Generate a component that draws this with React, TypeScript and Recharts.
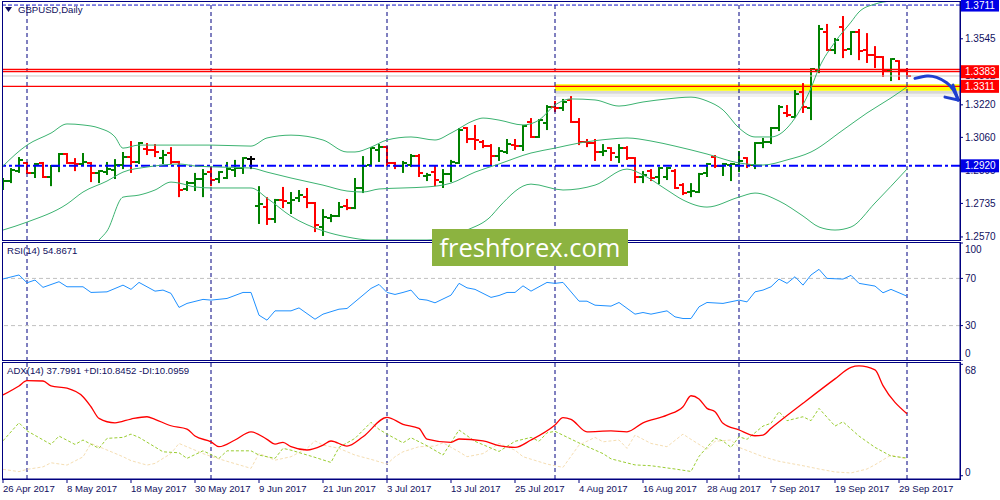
import type React from 'react'
import { Bar, ComposedChart, Line, ReferenceArea, ReferenceLine, XAxis, YAxis } from 'recharts'

// Daily OHLC for GBPUSD, one entry per trading day from 26 Apr 2017 to 2 Oct 2017
const opens = [
  1.2811, 1.2845, 1.2894, 1.2934, 1.2885, 1.2934, 1.2865, 1.2919, 1.2978, 1.2934,
  1.2929, 1.2934, 1.2885, 1.2889, 1.2899, 1.2924, 1.2963, 1.2939, 1.3003, 1.2998,
  1.2958, 1.2983, 1.2939, 1.2806, 1.2835, 1.2855, 1.2889, 1.2855, 1.286, 1.2899,
  1.2909, 1.2953, 1.2722, 1.2717, 1.2658, 1.2752, 1.2737, 1.2761, 1.2766, 1.2737,
  1.2619, 1.2663, 1.2673, 1.2722, 1.2712, 1.2811, 1.2924, 1.2998, 1.3012, 1.2934,
  1.2919, 1.2924, 1.2968, 1.287, 1.2889, 1.284, 1.288, 1.2934, 1.3106, 1.3052,
  1.3037, 1.3017, 1.2968, 1.2988, 1.3022, 1.3017, 1.3135, 1.3062, 1.3131, 1.3209,
  1.3204, 1.3244, 1.3135, 1.3037, 1.3032, 1.2988, 1.3007, 1.2963, 1.3007, 1.2958,
  1.2865, 1.2894, 1.2865, 1.2865, 1.2894, 1.2825, 1.2791, 1.2791, 1.2885, 1.2963,
  1.2919, 1.2924, 1.2924, 1.2958, 1.2924, 1.3032, 1.3037, 1.3106, 1.318, 1.316,
  1.3283, 1.3204, 1.3391, 1.3578, 1.349, 1.3603, 1.3495, 1.3578, 1.349, 1.3465,
  1.3455, 1.3386, 1.3435, 1.3386,
]
const highs = [
  1.286, 1.2909, 1.2963, 1.2939, 1.2934, 1.2939, 1.2924, 1.2983, 1.2983, 1.2958,
  1.2983, 1.2939, 1.2899, 1.2939, 1.2953, 1.2988, 1.3042, 1.3037, 1.3032, 1.3027,
  1.2998, 1.3012, 1.2944, 1.2845, 1.2885, 1.2904, 1.2914, 1.2894, 1.2939, 1.2949,
  1.2963, 1.2968, 1.282, 1.2766, 1.2757, 1.2816, 1.2791, 1.2801, 1.2811, 1.2742,
  1.2707, 1.2683, 1.2742, 1.2757, 1.286, 1.2968, 1.3012, 1.3027, 1.3017, 1.2939,
  1.2944, 1.2978, 1.2978, 1.2885, 1.2919, 1.2904, 1.2949, 1.3106, 1.3111, 1.3121,
  1.3047, 1.3027, 1.3012, 1.3052, 1.3052, 1.3121, 1.3155, 1.315, 1.3219, 1.3239,
  1.3249, 1.3263, 1.3155, 1.3052, 1.3052, 1.3027, 1.3012, 1.3027, 1.3017, 1.2963,
  1.2894, 1.2904, 1.2914, 1.2914, 1.2904, 1.2835, 1.2835, 1.2885, 1.2934, 1.2973,
  1.2934, 1.2934, 1.2993, 1.2963, 1.3037, 1.3057, 1.3111, 1.3219, 1.3219, 1.3293,
  1.3327, 1.3401, 1.3613, 1.3618, 1.3549, 1.3657, 1.3583, 1.3593, 1.3573, 1.3509,
  1.346, 1.345, 1.344, 1.3401,
]
const lows = [
  1.2801, 1.2835, 1.2885, 1.288, 1.286, 1.286, 1.282, 1.2889, 1.2929, 1.2894,
  1.2919, 1.284, 1.2835, 1.2875, 1.2855, 1.2904, 1.2885, 1.2929, 1.2973, 1.2963,
  1.2929, 1.2929, 1.2766, 1.2796, 1.2796, 1.2766, 1.282, 1.2835, 1.2855, 1.2865,
  1.288, 1.2904, 1.2634, 1.2629, 1.2639, 1.2712, 1.2683, 1.2742, 1.2712, 1.2594,
  1.2575, 1.2643, 1.2668, 1.2702, 1.2707, 1.2786, 1.2919, 1.2939, 1.2919, 1.2904,
  1.2885, 1.2914, 1.2865, 1.2845, 1.282, 1.2811, 1.284, 1.2929, 1.3032, 1.2998,
  1.3007, 1.2924, 1.2944, 1.2978, 1.2998, 1.2993, 1.3057, 1.3057, 1.3096, 1.3185,
  1.319, 1.3131, 1.3022, 1.3012, 1.2944, 1.2968, 1.2944, 1.2934, 1.2949, 1.2835,
  1.2835, 1.2845, 1.283, 1.285, 1.2806, 1.2776, 1.2766, 1.2786, 1.2865, 1.2909,
  1.287, 1.2845, 1.2889, 1.2909, 1.2904, 1.3007, 1.3027, 1.3091, 1.316, 1.3155,
  1.318, 1.3145, 1.3376, 1.3485, 1.347, 1.345, 1.3465, 1.344, 1.3426, 1.3401,
  1.3357, 1.3337, 1.3342, 1.3357,
]
const closes = [
  1.2845, 1.2899, 1.2949, 1.2885, 1.2929, 1.2865, 1.2919, 1.2978, 1.2934, 1.2929,
  1.2939, 1.2885, 1.2894, 1.2904, 1.2924, 1.2963, 1.2939, 1.3032, 1.2998, 1.2988,
  1.2973, 1.2939, 1.2801, 1.2835, 1.2855, 1.288, 1.285, 1.2889, 1.2904, 1.2909,
  1.2958, 1.2953, 1.2732, 1.2658, 1.2752, 1.2747, 1.2752, 1.2776, 1.2737, 1.2629,
  1.2668, 1.2673, 1.2717, 1.2712, 1.2811, 1.2919, 1.3007, 1.3012, 1.2934, 1.2919,
  1.2934, 1.2968, 1.2885, 1.2875, 1.285, 1.288, 1.2939, 1.3096, 1.3052, 1.3047,
  1.3017, 1.2968, 1.2993, 1.3027, 1.3017, 1.3116, 1.3062, 1.3145, 1.3209, 1.3204,
  1.3234, 1.3135, 1.3037, 1.3032, 1.2988, 1.2993, 1.2983, 1.3007, 1.2958, 1.2865,
  1.2875, 1.286, 1.2909, 1.2909, 1.2811, 1.2786, 1.2796, 1.288, 1.2929, 1.2919,
  1.2929, 1.2929, 1.2944, 1.2924, 1.3032, 1.3037, 1.3106, 1.3209, 1.317, 1.3273,
  1.3209, 1.3396, 1.3593, 1.349, 1.3539, 1.349, 1.3578, 1.3485, 1.3465, 1.3455,
  1.3386, 1.3445, 1.3386, 1.3362,
]

// Bollinger Bands (20), read as [bar, price]
const bbUpper: [number, number][] = [
  [0, 1.2919], [3, 1.3022], [6, 1.3081], [8, 1.3126], [10, 1.3121], [12, 1.3106], [14, 1.3062],
  [15, 1.3007], [17, 1.3022], [20, 1.3022], [26, 1.3022], [31, 1.3017], [33, 1.3057], [36, 1.3071],
  [40, 1.3047], [43, 1.2988], [44, 1.2988], [46, 1.3012], [48, 1.3047], [51, 1.3062], [54, 1.3047],
  [56, 1.3081], [59, 1.3145], [60, 1.3155], [62, 1.3145], [65, 1.3121], [67, 1.3145], [69, 1.3219],
  [71, 1.3249], [74, 1.3244], [77, 1.3214], [80, 1.3234], [83, 1.3249], [86, 1.3258], [88, 1.3239],
  [90, 1.3195], [92, 1.3106], [94, 1.3062], [96, 1.3062], [99, 1.3155], [101, 1.3303], [102, 1.3401],
  [104, 1.3529], [106, 1.3627], [107, 1.3677], [109, 1.3716], [111, 1.3731], [113, 1.3736],
]
const bbMiddle: [number, number][] = [
  [0, 1.2604], [3, 1.2643], [8, 1.2732], [10, 1.2791], [13, 1.2845], [15, 1.2889], [18, 1.2914],
  [20, 1.2924], [22, 1.2929], [24, 1.2919], [27, 1.2914], [31, 1.2909], [33, 1.2889], [36, 1.286],
  [40, 1.2825], [43, 1.2796], [45, 1.2791], [47, 1.2806], [50, 1.2811], [53, 1.2816], [56, 1.2835],
  [59, 1.2889], [62, 1.2929], [66, 1.2983], [69, 1.3007], [72, 1.3032], [76, 1.3052], [78, 1.3057],
  [81, 1.3042], [84, 1.3017], [88, 1.2978], [92, 1.2934], [95, 1.2924], [98, 1.2949], [101, 1.2988],
  [105, 1.3096], [108, 1.318], [111, 1.3254], [113, 1.3308],
]
const bbLower: [number, number][] = [
  [0, 1.2289], [3, 1.2265], [8, 1.2339], [10, 1.2462], [12, 1.2555], [13, 1.2599], [15, 1.2766],
  [17, 1.2776], [19, 1.2801], [21, 1.284], [22, 1.2835], [24, 1.2816], [26, 1.2811], [31, 1.2811],
  [33, 1.2761], [36, 1.2672], [40, 1.26], [43, 1.257], [46, 1.2555], [53, 1.2555], [58, 1.2604],
  [61, 1.2672], [62, 1.2717], [66, 1.283], [70, 1.2801], [74, 1.2825], [78, 1.2904], [80, 1.2875],
  [83, 1.2801], [85, 1.2752], [88, 1.2717], [92, 1.2766], [94, 1.2786], [97, 1.2747], [100, 1.2673],
  [102, 1.2619], [104, 1.2604], [106, 1.2619], [109, 1.2737], [113, 1.2904],
]

const rsi: [number, number][] = [
  [0, 69.5], [2, 72.9], [3, 66.3], [4, 68.6], [5, 62.4], [7, 67.2], [8, 62.9], [10, 62.9], [11, 58.1],
  [13, 58.6], [15, 64.3], [16, 60.7], [17, 66.6], [19, 59.2], [20, 60.1], [21, 57.3], [22, 45.4],
  [23, 48.8], [25, 52.2], [26, 51.6], [28, 53.0], [30, 58.1], [31, 58.1], [32, 38.8], [33, 34.6],
  [34, 42.5], [36, 42.5], [37, 45.0], [39, 35.4], [40, 39.7], [42, 43.9], [43, 44.5], [45, 55.8],
  [46, 61.5], [47, 64.9], [48, 58.1], [49, 56.4], [50, 58.1], [51, 60.1], [52, 52.4], [53, 51.6],
  [54, 49.3], [56, 55.8], [57, 65.8], [58, 62.0], [59, 60.7], [61, 53.9], [62, 55.5], [63, 58.1],
  [64, 58.1], [65, 63.7], [66, 59.2], [68, 66.6], [69, 65.8], [70, 66.6], [72, 50.7], [73, 50.7],
  [74, 47.3], [76, 46.5], [77, 49.6], [79, 39.7], [80, 41.1], [81, 39.7], [83, 42.5], [84, 37.4],
  [85, 36.0], [86, 36.0], [87, 45.9], [88, 49.6], [90, 48.8], [92, 51.6], [93, 50.1], [94, 58.6],
  [95, 60.1], [96, 62.9], [97, 69.4], [98, 65.8], [99, 71.4], [100, 64.3], [101, 72.9], [102, 77.7],
  [103, 70.0], [105, 69.4], [106, 72.6], [107, 65.8], [109, 63.5], [110, 57.8], [111, 60.7], [113, 54.9],
]

const adx: [number, number][] = [
  [0, 49.3], [2, 54.8], [3, 58.0], [5, 57.8], [6, 54.8], [8, 53.4], [10, 48.2], [11, 42.1], [12, 35.0],
  [14, 32.3], [16, 34.6], [18, 36.0], [19, 34.4], [21, 30.5], [23, 28.5], [24, 24.2], [26, 20.7],
  [27, 17.7], [29, 21.8], [31, 26.8], [33, 22.2], [34, 19.3], [35, 20.4], [36, 17.7], [38, 15.7],
  [40, 18.7], [41, 21.2], [43, 18.1], [45, 23.8], [48, 35.6], [50, 31.4], [52, 28.9], [53, 22.4],
  [56, 20.4], [57, 22.4], [60, 21.3], [62, 18.4], [64, 17.3], [66, 21.8], [69, 31.0], [70, 35.4],
  [71, 34.4], [73, 26.8], [76, 27.4], [78, 26.8], [80, 32.3], [83, 37.0], [85, 42.1], [86, 48.8],
  [87, 46.8], [88, 41.1], [89, 39.1], [90, 32.0], [92, 27.9], [94, 24.4], [95, 24.8], [96, 28.9],
  [100, 44.2], [104, 59.1], [106, 66.2], [107, 67.0], [109, 64.6], [110, 55.0], [113, 37.8],
]
const plusDi: [number, number][] = [
  [0, 21.3], [2, 32.3], [3, 27.4], [6, 19.1], [7, 24.2], [9, 19.1], [10, 21.8], [12, 16.7], [13, 22.8],
  [15, 23.4], [16, 25.4], [17, 23.4], [20, 14.6], [22, 14.0], [23, 10.6], [25, 15.2], [27, 10.6],
  [28, 15.2], [31, 15.2], [32, 12.6], [34, 10.6], [35, 16.7], [36, 15.6], [39, 11.2], [41, 8.1],
  [42, 17.3], [44, 22.8], [46, 32.6], [47, 28.3], [48, 25.4], [50, 20.1], [51, 23.2], [53, 18.3],
  [55, 12.6], [57, 27.9], [59, 21.0], [62, 14.8], [64, 21.0], [66, 23.4], [67, 21.0], [68, 26.2],
  [69, 27.1], [72, 20.0], [75, 13.5], [76, 10.3], [79, 6.6], [81, 6.1], [84, 4.1], [86, 2.6],
  [87, 11.8], [89, 23.0], [90, 21.2], [91, 17.3], [92, 23.8], [93, 22.2], [95, 30.3], [96, 32.0],
  [97, 39.1], [98, 33.6], [100, 36.0], [101, 33.6], [102, 41.1], [104, 30.3], [105, 32.9],
  [107, 24.2], [109, 17.3], [111, 12.0], [113, 10.8],
]
const minusDi: [number, number][] = [
  [0, 3.9], [2, 2.5], [3, 3.9], [5, 5.4], [6, 7.9], [8, 6.5], [10, 11.5], [11, 19.7], [13, 15.7],
  [15, 11.6], [16, 9.2], [18, 6.5], [19, 7.5], [21, 13.6], [22, 19.7], [24, 15.6], [25, 13.5],
  [26, 11.8], [28, 8.8], [31, 4.5], [32, 13.6], [34, 9.5], [36, 11.6], [38, 16.7], [39, 21.3],
  [40, 18.7], [42, 16.7], [44, 12.6], [46, 10.0], [48, 7.1], [49, 11.6], [50, 14.6], [52, 17.7],
  [54, 18.1], [55, 20.1], [57, 14.6], [58, 11.6], [60, 13.5], [62, 19.7], [64, 15.6], [65, 11.6],
  [68, 7.1], [70, 5.1], [72, 18.7], [74, 23.4], [75, 20.7], [77, 21.8], [78, 16.7], [79, 24.8],
  [81, 19.7], [83, 17.7], [85, 25.4], [86, 22.2], [88, 16.1], [89, 21.0], [91, 21.8], [92, 17.3],
  [95, 11.6], [97, 8.8], [100, 6.1], [102, 4.1], [104, 2.3], [106, 1.7], [108, 4.1], [109, 6.7],
  [111, 12.6], [113, 10.1],
]

const dateTicks = [0, 8, 16, 24, 32, 40, 48, 56, 64, 72, 80, 88, 96, 104, 112]
const dateLabels = [
  '26 Apr 2017', '8 May 2017', '18 May 2017', '30 May 2017', '9 Jun 2017', '21 Jun 2017',
  '3 Jul 2017', '13 Jul 2017', '25 Jul 2017', '4 Aug 2017', '16 Aug 2017', '28 Aug 2017',
  '7 Sep 2017', '19 Sep 2017', '29 Sep 2017',
]
// first bar of each month
const monthStarts = [3, 26, 48, 69, 92, 113]

const priceTicks = [1.3545, 1.322, 1.306, 1.2895, 1.2735, 1.257]
const bidPrice = 1.3362
const redLevels = [1.3394, 1.3383]
const supportLevel = 1.3311
const topLevel = 1.3711
const pivotLevel = 1.292
const supportZone = [1.3289, 1.3321]
const zoneStart = 69
// hand drawn arrow after the last bar
const arrowCurve: [number, number][] = [
  [114, 1.335], [115.5, 1.3362], [116.7, 1.3355], [117.96, 1.3329], [118.8, 1.3293], [119.4, 1.3244],
]
const arrowBarbs: [number, number][] = [[117.75, 1.3258], [118.75, 1.3317]]

const rsiLevels = [70, 30]
const rsiTicks = [100, 70, 30, 0]
const adxTicks = [68, 0]

const bars = opens.map((o, i) => ({
  i,
  o,
  h: highs[i],
  l: lows[i],
  c: closes[i],
  range: [lows[i], highs[i]],
}))
const pts = (list: [number, number][]) => list.map(([i, v]) => ({ i, v }))

const navy = '#000080'
const xDomain: [number, number] = [-0.125, 119.625]
const fontFamily = '"Liberation Sans", Arial, sans-serif'

const OhlcShape = (props: any) => {
  const { x, y, width, height, payload } = props
  if (payload == null || height == null) return null
  const cx = Math.round(x + width / 2)
  const span = payload.h - payload.l || 1
  const at = (p: number) => Math.round(y + ((payload.h - p) / span) * height)
  const color = payload.c > payload.o ? '#008000' : payload.c < payload.o ? '#ff0000' : '#000000'
  return (
    <g>
      <rect x={cx - 1} y={y} width={2} height={Math.max(height, 2)} fill={color} />
      <rect x={cx - 4} y={at(payload.o) - 1} width={3} height={2} fill={color} />
      <rect x={cx + 1} y={at(payload.c) - 1} width={3} height={2} fill={color} />
    </g>
  )
}

const PriceTick = (props: any) => {
  const { x, y, payload } = props
  const v: number = payload.value
  const text = v.toFixed(4)
  let box: string | null = null
  if (v === topLevel || v === pivotLevel) box = '#0000e6'
  if (v === redLevels[1] || v === supportLevel) box = '#ff0000'
  if (v === bidPrice) box = '#ffffff'
  return (
    <g>
      {box && <rect x={x - 4} y={y - 6.5} width={38} height={13} fill={box} />}
      <text x={x} y={y} dy={3.5} fontSize={10} fill={box && box !== '#ffffff' ? '#ffffff' : '#101060'}>
        {text}
      </text>
    </g>
  )
}

const SideTick = (props: any) => {
  const { x, y, payload, lo, hi } = props
  const ty = Math.min(hi, Math.max(lo, y))
  return (
    <text x={x} y={ty} dy={3.5} fontSize={10} fill="#101060">
      {payload.value}
    </text>
  )
}

const DateTick = (props: any) => {
  const { x, y, payload } = props
  const k = dateTicks.indexOf(payload.value)
  return (
    <g>
      <line x1={x} x2={x} y1={y - 5} y2={y - 1} stroke={navy} />
      <text x={x} y={y} dy={8} fontSize={9.6} fill="#101060">
        {dateLabels[k]}
      </text>
    </g>
  )
}

const Frame: React.FC<{ top: number; height: number }> = ({ top, height }) => (
  <div
    style={{
      position: 'absolute',
      left: 2,
      top,
      width: 959,
      height,
      boxSizing: 'border-box',
      border: `1px solid ${navy}`,
      pointerEvents: 'none',
    }}
  />
)

const Caption: React.FC<{ top: number; left: number; children: React.ReactNode }> = ({ top, left, children }) => (
  <div
    style={{
      position: 'absolute',
      left,
      top,
      fontSize: 9.6,
      lineHeight: '11px',
      color: '#101060',
      whiteSpace: 'nowrap',
    }}
  >
    {children}
  </div>
)

const monthLines = () =>
  monthStarts.map(m => (
    <ReferenceLine key={`m${m}`} x={m} stroke={navy} strokeDasharray="4 3" ifOverflow="extendDomain" />
  ))

export default function App() {
  return (
    <div style={{ position: 'relative', width: 1000, height: 500, background: '#fff', overflow: 'hidden', fontFamily }}>
      <style>{'body{margin:0}'}</style>

      {/* price window */}
      <div style={{ position: 'absolute', left: 0, top: 0 }}>
        <ComposedChart width={1000} height={242} data={bars} margin={{ top: 2, right: 0, bottom: 2, left: 2 }}>
          <XAxis dataKey="i" type="number" domain={xDomain} allowDataOverflow hide />
          <YAxis
            orientation="right"
            domain={[1.2555, 1.3726]}
            allowDataOverflow
            ticks={[...priceTicks, bidPrice, redLevels[1], supportLevel, topLevel, pivotLevel]}
            interval={0}
            width={40}
            tickSize={3}
            tickMargin={2}
            axisLine={{ stroke: navy }}
            tickLine={{ stroke: navy }}
            tick={<PriceTick />}
          />
          {monthLines()}
          {/* soft shadow under the highlighted support zone */}
          <ReferenceArea
            x1={zoneStart}
            x2={xDomain[1]}
            y1={supportZone[0] - 0.0014}
            y2={supportZone[0]}
            fill="#9a9a9a"
            fillOpacity={0.4}
            stroke="none"
            ifOverflow="hidden"
          />
          <ReferenceArea
            x1={zoneStart}
            x2={xDomain[1]}
            y1={supportZone[0] - 0.003}
            y2={supportZone[0] - 0.0014}
            fill="#b4b4b4"
            fillOpacity={0.2}
            stroke="none"
            ifOverflow="hidden"
          />
          <ReferenceArea
            x1={zoneStart}
            x2={xDomain[1]}
            y1={supportZone[0]}
            y2={supportZone[1]}
            fill="#ffff00"
            fillOpacity={1}
            stroke="none"
            ifOverflow="hidden"
          />
          <ReferenceLine y={bidPrice} stroke="#c8c8c8" />
          {redLevels.map(v => (
            <ReferenceLine key={v} y={v} stroke="#ff0000" strokeWidth={1.3} />
          ))}
          <ReferenceLine y={supportLevel} stroke="#ff0000" strokeWidth={1.3} />
          <ReferenceLine y={topLevel} stroke="#1010c8" strokeDasharray="4 2" />
          <ReferenceLine y={pivotLevel} stroke="#0000ff" strokeWidth={2} strokeDasharray="9 3 3 3" />

          <Line data={pts(bbUpper)} dataKey="v" type="monotone" stroke="#3cb371" strokeWidth={1} dot={false} isAnimationActive={false} />
          <Line data={pts(bbMiddle)} dataKey="v" type="monotone" stroke="#3cb371" strokeWidth={1} dot={false} isAnimationActive={false} />
          <Line data={pts(bbLower)} dataKey="v" type="monotone" stroke="#3cb371" strokeWidth={1} dot={false} isAnimationActive={false} />

          <Bar dataKey="range" barSize={6} shape={<OhlcShape />} isAnimationActive={false} />

          <Line
            data={pts(arrowCurve)}
            dataKey="v"
            type="natural"
            stroke="#1f3fd0"
            strokeWidth={3}
            strokeLinecap="round"
            dot={false}
            isAnimationActive={false}
          />
          {arrowBarbs.map(([bi, bv]) => (
            <ReferenceLine
              key={bi}
              segment={[
                { x: bi, y: bv },
                { x: arrowCurve[arrowCurve.length - 1][0], y: arrowCurve[arrowCurve.length - 1][1] },
              ]}
              stroke="#1f3fd0"
              strokeWidth={3}
              strokeLinecap="round"
            />
          ))}
        </ComposedChart>
      </div>

      {/* RSI window */}
      <div style={{ position: 'absolute', left: 0, top: 240 }}>
        <ComposedChart width={1000} height={121} margin={{ top: 3, right: 0, bottom: 0, left: 2 }}>
          <XAxis dataKey="i" type="number" domain={xDomain} allowDataOverflow hide />
          <YAxis
            orientation="right"
            domain={[0, 100]}
            ticks={rsiTicks}
            interval={0}
            width={40}
            tickSize={3}
            tickMargin={2}
            axisLine={{ stroke: navy }}
            tickLine={{ stroke: navy }}
            tick={<SideTick lo={9} hi={113} />}
          />
          {monthLines()}
          {rsiLevels.map(v => (
            <ReferenceLine key={v} y={v} stroke="#c0c0c0" strokeDasharray="4 3" />
          ))}
          <Line data={pts(rsi)} dataKey="v" type="linear" stroke="#1e90ff" strokeWidth={1} dot={false} isAnimationActive={false} />
        </ComposedChart>
      </div>

      {/* ADX window */}
      <div style={{ position: 'absolute', left: 0, top: 360 }}>
        <ComposedChart width={1000} height={140} margin={{ top: 3, right: 0, bottom: 0, left: 2 }}>
          <XAxis
            dataKey="i"
            type="number"
            domain={xDomain}
            allowDataOverflow
            ticks={dateTicks}
            interval={0}
            height={21}
            tickSize={3}
            tickMargin={2}
            axisLine={{ stroke: navy }}
            tickLine={false}
            tick={<DateTick />}
          />
          <YAxis
            orientation="right"
            domain={[-2, 68.8]}
            allowDataOverflow
            ticks={adxTicks}
            interval={0}
            width={40}
            tickSize={3}
            tickMargin={2}
            axisLine={{ stroke: navy }}
            tickLine={{ stroke: navy }}
            tick={<SideTick lo={10} hi={112} />}
          />
          {monthLines()}
          <Line data={pts(minusDi)} dataKey="v" type="linear" stroke="#f5deb3" strokeWidth={1} strokeDasharray="3 2" dot={false} isAnimationActive={false} />
          <Line data={pts(plusDi)} dataKey="v" type="linear" stroke="#9acd32" strokeWidth={1} strokeDasharray="3 2" dot={false} isAnimationActive={false} />
          <Line data={pts(adx)} dataKey="v" type="monotone" stroke="#ff0000" strokeWidth={1.3} dot={false} isAnimationActive={false} />
        </ComposedChart>
      </div>

      <Frame top={1} height={240} />
      <Frame top={242} height={119} />
      <Frame top={362} height={118} />

      <Caption top={4} left={18}>
        GBPUSD,Daily
      </Caption>
      <svg style={{ position: 'absolute', left: 5, top: 7 }} width={8} height={6}>
        <polygon points="0,0 7,0 3.5,5" fill="#101060" />
      </svg>
      <Caption top={245} left={7}>
        RSI(14) 54.8671
      </Caption>
      <Caption top={365} left={7}>
        ADX(14) 37.7991 +DI:10.8452 -DI:10.0959
      </Caption>

      <div
        style={{
          position: 'absolute',
          left: 432,
          top: 229,
          width: 196,
          height: 37,
          background: '#8cb340',
          color: '#fff',
          fontFamily: '"Open Sans", sans-serif',
          fontSize: 25.5,
          lineHeight: '36px',
          textAlign: 'center',
        }}
      >
        freshforex.com
      </div>
    </div>
  )
}
